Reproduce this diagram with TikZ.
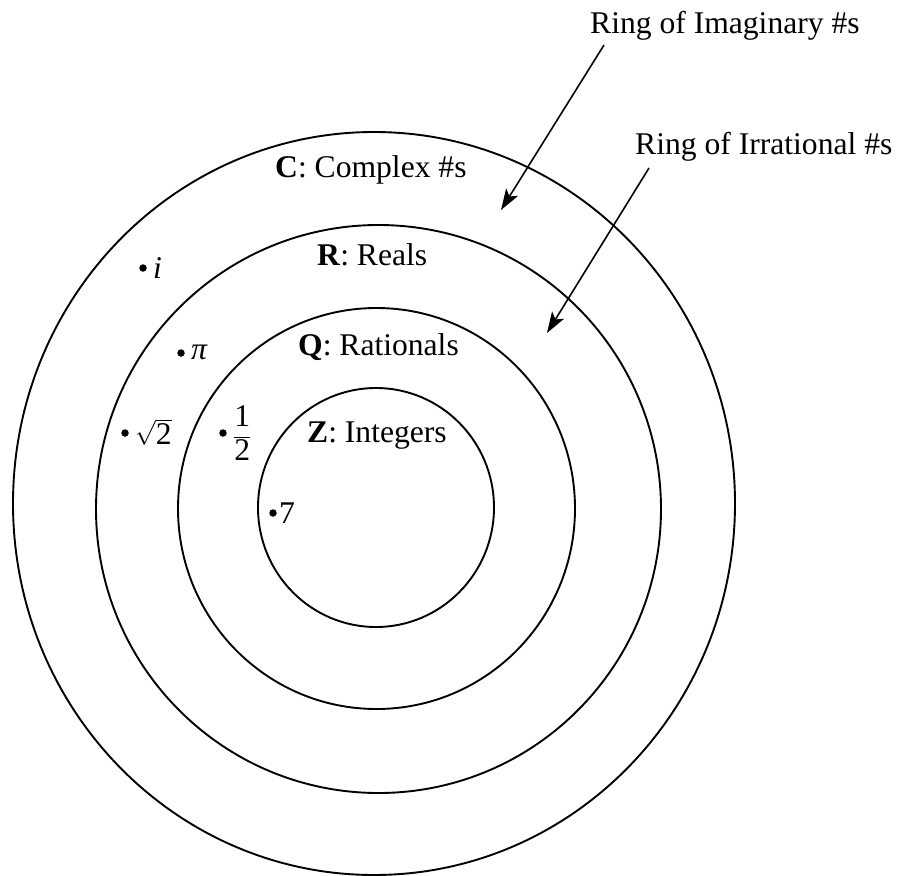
\documentclass[tikz,border=0pt]{standalone}
\usepackage{fontspec}
\setmainfont{Liberation Serif}
\usetikzlibrary{arrows.meta}
\begin{document}
\begin{tikzpicture}[x=1pt,y=-1pt,
  ring/.style={draw=black, line width=1.9pt},
  lbl/.style={font=\fontsize{31.6}{38}\selectfont, inner sep=0pt, anchor=base west},
  dot/.style={circle, fill=black, inner sep=0pt, minimum size=7.5pt},
  arr/.style={draw=black, line width=1.6pt, -{Stealth[length=21pt,width=14pt,inset=5pt]}}]
\fill[white] (0,0) rectangle (898,876);
\useasboundingbox (0,0) rectangle (898,876);
% rings
\draw[ring] (374,503.5) ellipse [x radius=361pt, y radius=371.5pt];
\draw[ring] (378.5,509) ellipse [x radius=282.5pt, y radius=284pt];
\draw[ring] (376.5,508.5) ellipse [x radius=198.5pt, y radius=200.5pt];
\draw[ring] (376,507.5) ellipse [x radius=118pt, y radius=119.5pt];
% set labels
\node[lbl] (cplx) at (275,177) {\textbf{C}: Complex \#s};
\node[lbl] (reals) at (317,265) {\textbf{R}: Reals};
\node[lbl] (rats) at (298,355) {\textbf{Q}: Rationals};
\node[lbl] (ints) at (307,442) {\textbf{Z}: Integers};
% ring labels
\node[lbl] (imag) at (590,33) {Ring of Imaginary \#s};
\node[lbl] (irr) at (635,154) {Ring of Irrational \#s};
\coordinate (imagtip) at (501,210);
\coordinate (irrtip) at (547,333);
\draw[arr] ([xshift=14pt,yshift=-12pt]imag.base west) -- (imagtip);
\draw[arr] ([xshift=14pt,yshift=-14pt]irr.base west) -- (irrtip);
% example numbers
\node[dot] (di) at (143,268) {};
\node[lbl] (ti) at (153,278) {\itshape i};
\node[dot] (dpi) at (181,353) {};
\node[lbl] (tpi) at (191,359) {\itshape π};
\node[dot] (dsq) at (125,433) {};
\node[lbl] (tsq) at (135,444) {$\sqrt{\mbox{2}}$};
\node[dot] (dhalf) at (223,433) {};
\node[lbl, anchor=west] (thalf) at (233,433) {$\displaystyle\frac{\mbox{1}}{\mbox{2}}$};
\node[dot] (dseven) at (273,513) {};
\node[lbl] (tseven) at (279,523) {7};
\end{tikzpicture}
\end{document}
